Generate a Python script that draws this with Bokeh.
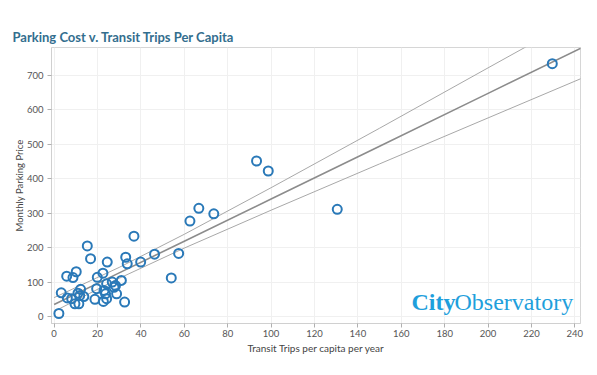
from bokeh.plotting import figure
from bokeh.models import Range1d, Label, FixedTicker, ColumnDataSource
from bokeh.embed import file_html
from bokeh.resources import INLINE

# Data
transit = [2.2, 3.3, 5.8, 6.1, 8.7, 10.2, 8.1, 9.6, 11.4, 11.0, 11.8, 12.2, 13.7,
           15.3, 16.8, 18.8, 19.9, 19.6, 22.5, 23.0, 22.7, 24.5, 24.2, 23.7, 24.2,
           26.8, 28.3, 28.8, 27.6, 31.0, 32.5, 33.0, 33.7, 36.8, 39.9, 46.3, 54.0,
           57.4, 62.6, 66.7, 73.6, 93.3, 98.7, 130.5, 229.6]
parking = [10, 70, 118, 55, 114, 131, 53, 38, 38, 69, 62, 80, 59,
           206, 169, 51, 115, 82, 127, 77, 45, 159, 96, 67, 53,
           101, 91, 67, 86, 106, 43, 173, 154, 234, 159, 182, 113,
           184, 278, 315, 299, 452, 423, 312, 734]

# Trend line and confidence band
trend_x = [0, 30, 60, 100, 150, 200, 243]
trend_mid = [36, 127.8, 219.6, 342, 495, 648, 779.6]
trend_upper = [56, 143.6, 239.6, 374.6, 547, 722, 872]
trend_lower = [16, 112, 199.6, 309.4, 443.6, 576.9, 691.3]

x_ticks = list(range(0, 241, 20))
y_ticks = list(range(0, 701, 100))

FONT = "Lato"

p = figure(width=597, height=375, output_backend="svg", toolbar_location=None,
           x_range=Range1d(-1.2, 242.6), y_range=Range1d(-19, 781),
           min_border_left=51, min_border_right=17, min_border_top=47,
           min_border_bottom=52)

p.title.text = "Parking Cost v. Transit Trips Per Capita"
p.title.text_font = FONT
p.title.text_font_size = "13px"
p.title.text_font_style = "bold"
p.title.text_color = "#336e8e"
p.title.align = "left"
p.title.offset = -39
p.title.standoff = 6

p.background_fill_color = "white"
p.border_fill_color = "white"
p.outline_line_color = "#d6d6d6"

p.xgrid.grid_line_color = "#f0f0f0"
p.ygrid.grid_line_color = "#f0f0f0"
p.xaxis.ticker = FixedTicker(ticks=x_ticks)
p.yaxis.ticker = FixedTicker(ticks=y_ticks)

for ax in (p.xaxis[0], p.yaxis[0]):
    ax.axis_line_color = "#d0d0d0"
    ax.major_tick_line_color = "#b0b0b0"
    ax.major_tick_out = 4
    ax.major_tick_in = 0
    ax.minor_tick_line_color = None
    ax.major_label_text_font = FONT
    ax.major_label_text_font_size = "9.5px"
    ax.major_label_text_color = "#555555"
    ax.axis_label_text_font = FONT
    ax.axis_label_text_font_style = "normal"
    ax.axis_label_text_color = "#444444"

p.xaxis.axis_label = "Transit Trips per capita per year"
p.xaxis.axis_label_text_font_size = "10px"
p.xaxis.major_label_standoff = 2
p.xaxis.axis_label_standoff = 2
p.yaxis.axis_label = "Monthly Parking Price"
p.yaxis.axis_label_text_font_size = "9.5px"
p.yaxis.major_label_standoff = 4
p.yaxis.axis_label_standoff = -1

p.line(trend_x, trend_upper, line_color="#a8a8a8", line_width=1)
p.line(trend_x, trend_lower, line_color="#a8a8a8", line_width=1)
p.line(trend_x, trend_mid, line_color="#8c8c8c", line_width=1.6)

src = ColumnDataSource(dict(x=transit, y=parking))
p.scatter("x", "y", source=src, size=9, fill_color=None, line_color="#2a79b8",
          line_width=2)

p.add_layout(Label(x=360, y=9, x_units="screen", y_units="screen", text="City",
                   text_font="Liberation Serif", text_font_style="bold",
                   text_font_size="24px", text_color="#1f9fdc"))
p.add_layout(Label(x=403, y=9, x_units="screen", y_units="screen", text="Observatory",
                   text_font="Liberation Serif", text_font_size="24px",
                   text_color="#1f9fdc"))

open("out.html", "w").write(file_html(p, INLINE))
